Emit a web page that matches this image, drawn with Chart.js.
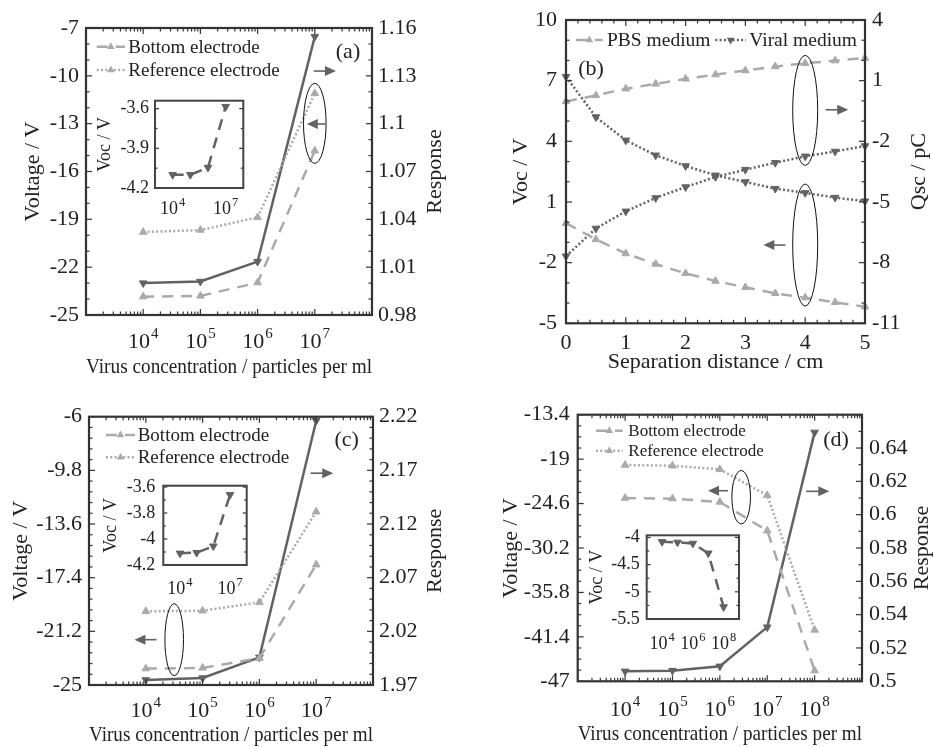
<!DOCTYPE html>
<html><head><meta charset="utf-8">
<script src="https://cdn.jsdelivr.net/npm/chart.js@4.4.1/dist/chart.umd.min.js"></script>
<style>
html,body{margin:0;padding:0;background:#fff;}
#wrap{position:relative;width:933px;height:747px;overflow:hidden;background:#fff;}
#wrap canvas{position:absolute;left:0;top:0;}
</style></head>
<body><div id="wrap"></div>
<script>
// ---------------- DATA ----------------
// Panel (a)
const concA = [1e4, 1e5, 1e6, 1e7];
const bottomA = [-23.85, -23.8, -22.97, -14.7];
const referenceA = [-19.8, -19.67, -18.88, -11.1];
const responseA = [1.0, 1.001, 1.0135, 1.1546];
const insetA = [-4.1, -4.1, -4.045, -3.585];
const voltTicksA = [-25, -22, -19, -16, -13, -10, -7];
const respTicksA = [0.98, 1.01, 1.04, 1.07, 1.1, 1.13, 1.16];
const concTicksA = [1e4, 1e5, 1e6, 1e7];
const insetTicksA = [-4.2, -3.9, -3.6];
const insetConcTicksA = [1e4, 1e7];

// Panel (b)
const distB = [0, 0.5, 1, 1.5, 2, 2.5, 3, 3.5, 4, 4.5, 5];
const vocPbsB = [-0.05, -0.85, -1.55, -2.07, -2.53, -2.91, -3.22, -3.52, -3.73, -3.96, -4.18];
const vocViralB = [7.2, 5.2, 4.05, 3.31, 2.78, 2.32, 1.99, 1.66, 1.45, 1.22, 1.04];
const qscPbsB = [-0.03, 0.27, 0.6, 0.84, 1.09, 1.3, 1.5, 1.7, 1.86, 1.99, 2.12];
const qscViralB = [-7.68, -6.31, -5.46, -4.8, -4.26, -3.76, -3.4, -3.06, -2.74, -2.5, -2.23];
const vocTicksB = [-5, -2, 1, 4, 7, 10];
const qscTicksB = [-11, -8, -5, -2, 1, 4];
const distTicksB = [0, 1, 2, 3, 4, 5];

// Panel (c)
const concC = [1e4, 1e5, 1e6, 1e7];
const bottomC = [-23.84, -23.79, -23.1, -16.48];
const referenceC = [-19.78, -19.74, -19.15, -12.73];
const responseC = [1.9747, 1.9765, 1.9958, 2.2163];
const insetC = [-4.11, -4.105, -4.055, -3.66];
const voltTicksC = [-25, -21.2, -17.4, -13.6, -9.8, -6];
const respTicksC = [1.97, 2.02, 2.07, 2.12, 2.17, 2.22];
const concTicksC = [1e4, 1e5, 1e6, 1e7];
const insetTicksC = [-4.2, -4, -3.8, -3.6];
const insetConcTicksC = [1e4, 1e7];

// Panel (d)
const concD = [1e4, 1e5, 1e6, 1e7, 1e8];
const bottomD = [-23.9, -23.98, -24.4, -28.02, -45.66];
const referenceD = [-19.74, -19.83, -20.29, -23.56, -40.53];
const responseD = [0.506, 0.5064, 0.509, 0.5325, 0.6494];
const insetD = [-4.08, -4.09, -4.11, -4.29, -5.28];
const voltTicksD = [-47, -41.4, -35.8, -30.2, -24.6, -19, -13.4];
const respTicksD = [0.5, 0.52, 0.54, 0.56, 0.58, 0.6, 0.62, 0.64];
const concTicksD = [1e4, 1e5, 1e6, 1e7, 1e8];
const insetTicksD = [-5.5, -5, -4.5, -4];
const insetConcTicksD = [1e4, 1e6, 1e8];

// ---------------- STYLE / HELPERS ----------------
const W = 933, H = 747;
const FONT = "'Liberation Serif', 'Times New Roman', serif";
const DARK = '#626262', LIGHT = '#aaaaaa', AXIS = '#333333', TXT = '#222222';
const DASH = [11, 8], DOT = [2, 2.3];
const MR = 4.4;

function numLabel(v){ return String(+(+v).toFixed(3)); }
function pts(xs, ys){ return xs.map((x, i) => ({x: x, y: ys[i]})); }
function fixedTicks(vals){ return s => { s.ticks = vals.map(v => ({value: v})); }; }
function linMinor(major, n){ const o = []; for (let i = 0; i < major.length - 1; i++){ for (let k = 1; k < n; k++) o.push(major[i] + (major[i+1] - major[i]) * k / n); } return o; }
function logMajor(min, max){ const o = []; for (let e = Math.round(Math.log10(min)); e <= Math.round(Math.log10(max)); e++) o.push(Math.pow(10, e)); return o; }
function logMinor(min, max){ const o = []; for (let e = Math.floor(Math.log10(min)); e < Math.log10(max); e++) for (let k = 2; k < 10; k++){ const v = k * Math.pow(10, e); if (v > min && v < max) o.push(v); } return o; }

function ds(label, xs, ys, color, dash, down, axis){
  return { label, data: pts(xs, ys), borderColor: color, backgroundColor: color,
    pointBackgroundColor: color, pointBorderColor: color, pointBorderWidth: 1,
    borderWidth: 2.5, borderDash: dash, pointStyle: 'triangle', pointRotation: down ? 180 : 0,
    pointRadius: MR, yAxisID: axis || 'y', clip: false, tension: 0, fill: false };
}

const wrap = document.getElementById('wrap');
function makeCanvas(){ const c = document.createElement('canvas'); c.width = W; c.height = H; wrap.appendChild(c); return c; }

function tri(ctx, x, y, r, down){
  ctx.beginPath();
  const s = down ? -1 : 1;
  ctx.moveTo(x, y - s * r);
  ctx.lineTo(x + r * 0.866, y + s * r * 0.5);
  ctx.lineTo(x - r * 0.866, y + s * r * 0.5);
  ctx.closePath(); ctx.fill();
}
function arrow(ctx, x1, x2, y){
  const dir = Math.sign(x2 - x1), hl = 11, hw = 5;
  ctx.beginPath(); ctx.moveTo(x1, y); ctx.lineTo(x2 - dir * hl + dir, y); ctx.stroke();
  ctx.beginPath(); ctx.moveTo(x2, y); ctx.lineTo(x2 - dir * hl, y - hw); ctx.lineTo(x2 - dir * hl, y + hw); ctx.closePath(); ctx.fill();
}

function decor(p){
  return {
    id: 'decor',
    afterDatasetsDraw(chart){
      const ctx = chart.ctx, a = chart.chartArea, sx = chart.scales.x, sy = chart.scales.y, sy2 = chart.scales.y2 || sy;
      const f = p.frame;
      ctx.save();
      ctx.strokeStyle = AXIS; ctx.lineWidth = 1.2;
      const ln = (x1, y1, x2, y2) => { ctx.beginPath(); ctx.moveTo(x1, y1); ctx.lineTo(x2, y2); ctx.stroke(); };
      if (f.x) [[f.x[0], f.maj], [f.x[1], f.min]].forEach(([vals, len]) => vals.forEach(v => {
        const px = sx.getPixelForValue(v); ln(px, a.bottom, px, a.bottom - len); ln(px, a.top, px, a.top + len); }));
      if (f.y) [[f.y[0], f.maj], [f.y[1], f.min]].forEach(([vals, len]) => vals.forEach(v => {
        const py = sy.getPixelForValue(v); ln(a.left, py, a.left + len, py); }));
      if (f.y2) [[f.y2[0], f.maj], [f.y2[1], f.min]].forEach(([vals, len]) => vals.forEach(v => {
        const py = sy2.getPixelForValue(v); ln(a.right, py, a.right - len, py); }));
      ctx.lineWidth = f.lw; ctx.strokeStyle = f.color || AXIS;
      ctx.strokeRect(a.left, a.top, a.right - a.left, a.bottom - a.top);
      // power-of-ten tick labels
      if (p.powX){
        const q = p.powX;
        ctx.fillStyle = TXT; ctx.textAlign = 'left'; ctx.textBaseline = 'alphabetic';
        q.ticks.forEach(v => {
          const px = sx.getPixelForValue(v), e = String(Math.round(Math.log10(v)));
          ctx.font = q.fs + 'px ' + FONT; const w1 = ctx.measureText('10').width;
          ctx.font = q.ss + 'px ' + FONT; const w2 = ctx.measureText(e).width;
          const x0 = px - (w1 + w2 + 1) / 2;
          ctx.font = q.fs + 'px ' + FONT; ctx.fillText('10', x0, a.bottom + q.base);
          ctx.font = q.ss + 'px ' + FONT; ctx.fillText(e, x0 + w1 + 1, a.bottom + q.base - q.raise);
        });
      }
      // right-axis title, reading bottom to top
      if (p.rightTitle){
        ctx.save();
        ctx.translate(a.right + p.rightTitle.dx, (a.top + a.bottom) / 2);
        ctx.rotate(-Math.PI / 2);
        ctx.fillStyle = TXT; ctx.font = '22px ' + FONT; ctx.textAlign = 'center'; ctx.textBaseline = 'middle';
        ctx.fillText(p.rightTitle.text, 0, 0);
        ctx.restore();
      }
      // ellipses
      ctx.strokeStyle = '#111'; ctx.lineWidth = 1;
      (p.ellipses || []).forEach(e => {
        const cx = sx.getPixelForValue(e.x), cy = chart.scales[e.axis || 'y'].getPixelForValue(e.y);
        ctx.beginPath(); ctx.ellipse(cx, cy, e.rx, e.ry, 0, 0, Math.PI * 2); ctx.stroke();
      });
      ctx.strokeStyle = DARK; ctx.fillStyle = DARK; ctx.lineWidth = 1.6;
      (p.arrows || []).forEach(r => {
        const y = chart.scales[r.axis || 'y'].getPixelForValue(r.y);
        arrow(ctx, sx.getPixelForValue(r.x1), sx.getPixelForValue(r.x2), y);
      });
      // legend
      (p.legend || []).forEach(L => {
        const y = a.top + L.y;
        ctx.save();
        ctx.strokeStyle = L.color; ctx.fillStyle = L.color; ctx.lineWidth = 2.5; ctx.setLineDash(L.dash);
        ctx.beginPath(); ctx.moveTo(a.left + L.x0, y); ctx.lineTo(a.left + L.x1, y); ctx.stroke();
        ctx.setLineDash([]);
        tri(ctx, a.left + (L.x0 + L.x1) / 2, y, MR, L.down);
        ctx.fillStyle = TXT; ctx.font = L.size + 'px ' + FONT; ctx.textBaseline = 'middle'; ctx.textAlign = 'left';
        ctx.fillText(L.text, a.left + L.tx, y + 1);
        ctx.restore();
      });
      if (p.label){
        ctx.fillStyle = TXT; ctx.font = '22px ' + FONT; ctx.textAlign = 'center'; ctx.textBaseline = 'middle';
        ctx.fillText(p.label.text, a.left + p.label.dx, a.top + p.label.dy);
      }
      ctx.restore();
    }
  };
}

function tickFont(size){ return {family: FONT, size: size, lineHeight: 1}; }
const NOGRID = {display: false, drawTicks: false, tickLength: 0};

function yAxis(pos, min, max, ticks, width, title, titlePad, tickPad, fs, tfs){
  return { type: 'linear', position: pos, min: min, max: max,
    afterBuildTicks: fixedTicks(ticks), afterFit: s => { s.width = width; },
    grid: NOGRID, border: {display: false},
    ticks: {autoSkip: false, padding: tickPad, color: TXT, font: tickFont(fs), callback: v => numLabel(v)},
    title: {display: !!title, text: title || '', color: TXT, font: tickFont(tfs), padding: titlePad} };
}
function xAxis(type, min, max, ticks, height, title, titlePad, tickPad, fs){
  return { type: type, position: 'bottom', min: min, max: max,
    afterBuildTicks: fixedTicks(ticks), afterFit: s => { s.height = height; },
    grid: NOGRID, border: {display: false},
    ticks: {display: type !== 'logarithmic', autoSkip: false, maxRotation: 0, minRotation: 0, padding: tickPad, color: TXT, font: tickFont(fs),
      callback: v => numLabel(v)},
    title: {display: !!title, text: title || '', color: TXT, font: tickFont(22), padding: titlePad} };
}

function makeChart(g, datasets, scales, deco){
  const padding = {left: g.L - g.wl, right: W - g.R - (g.wr || 0), top: g.T, bottom: H - g.B - g.hx};
  return new Chart(makeCanvas(), {
    type: 'line',
    data: {datasets: datasets},
    options: { responsive: false, animation: false, devicePixelRatio: 1, events: [],
      layout: {padding: padding},
      plugins: {legend: {display: false}, tooltip: {enabled: false}},
      scales: scales },
    plugins: [decor(deco)]
  });
}

const XT = 'Virus concentration / particles per ml';

// ---------------- PANEL (a) ----------------
makeChart({L: 86, T: 28, R: 372, B: 315, wl: 86, wr: 80, hx: 70},
  [ ds('Bottom electrode', concA, bottomA, LIGHT, DASH, false),
    ds('Reference electrode', concA, referenceA, LIGHT, DOT, false),
    ds('Response', concA, responseA, DARK, [], true, 'y2') ],
  { x: xAxis('logarithmic', 1e3, 1e8, concTicksA, 70, XT, 7, 16, 22),
    y: yAxis('left', -25, -7, voltTicksA, 86, 'Voltage / V', 22, 7, 22, 22),
    y2: yAxis('right', 0.98, 1.16, respTicksA, 80, '', 6, 6, 22, 22) },
  { frame: {lw: 2.2, maj: 6, min: 3.5, x: [logMajor(1e3, 1e8), logMinor(1e3, 1e8)],
      y: [voltTicksA, linMinor(voltTicksA, 3)], y2: [respTicksA, linMinor(respTicksA, 3)]},
    powX: {ticks: concTicksA, fs: 22, ss: 15, base: 33, raise: 10},
    rightTitle: {text: 'Response', dx: 63},
    ellipses: [{x: 1e7, y: -12.98, rx: 11.3, ry: 40}],
    arrows: [{x1: Math.pow(10, 6.98), x2: Math.pow(10, 7.37), y: -9.7}, {x1: Math.pow(10, 7.19), x2: Math.pow(10, 6.86), y: -13.02}],
    legend: [{text: 'Bottom electrode', color: LIGHT, dash: DASH, x0: 10.7, x1: 39, tx: 42.3, y: 18.7, size: 19},
             {text: 'Reference electrode', color: LIGHT, dash: DOT, x0: 10.7, x1: 39, tx: 42.3, y: 42, size: 19}],
    label: {text: '(a)', dx: 262, dy: 24} });

// ---------------- PANEL (b) ----------------
makeChart({L: 566, T: 19.3, R: 865, B: 323.3, wl: 60, wr: 68, hx: 50},
  [ ds('PBS medium', distB, vocPbsB, LIGHT, DASH, false),
    ds('Viral medium', distB, vocViralB, DARK, DOT, true),
    ds('PBS medium Qsc', distB, qscPbsB, LIGHT, DASH, false, 'y2'),
    ds('Viral medium Qsc', distB, qscViralB, DARK, DOT, true, 'y2') ],
  { x: xAxis('linear', 0, 5, distTicksB, 50, 'Separation distance / cm', 0.5, 9, 22),
    y: yAxis('left', -5, 10, vocTicksB, 60, 'Voc / V', 4, 9, 22, 22),
    y2: yAxis('right', -11, 4, qscTicksB, 68, '', 2.7, 7, 22, 22) },
  { frame: {lw: 2.2, maj: 6, min: 3.5, x: [distTicksB, linMinor(distTicksB, 5)],
      y: [vocTicksB, linMinor(vocTicksB, 3)], y2: [qscTicksB, linMinor(qscTicksB, 3)]},
    rightTitle: {text: 'Qsc / pC', dx: 54.3},
    ellipses: [{x: 4, y: 5.53, rx: 12.5, ry: 55}, {x: 4, y: -1.13, rx: 12.5, ry: 61}],
    arrows: [{x1: 4.34, x2: 4.72, y: 5.56}, {x1: 3.67, x2: 3.3, y: -1.13}],
    legend: [{text: 'PBS medium', color: LIGHT, dash: DASH, x0: 10, x1: 36.7, tx: 41, y: 20, size: 19.5},
             {text: 'Viral medium', color: DARK, dash: DOT, x0: 149.3, x1: 180, tx: 183.3, y: 20, size: 19.5, down: true}],
    label: {text: '(b)', dx: 25, dy: 49} });

// ---------------- PANEL (c) ----------------
makeChart({L: 89, T: 416.7, R: 373, B: 685, wl: 89, wr: 80, hx: 62},
  [ ds('Bottom electrode', concC, bottomC, LIGHT, DASH, false),
    ds('Reference electrode', concC, referenceC, LIGHT, DOT, false),
    ds('Response', concC, responseC, DARK, [], true, 'y2') ],
  { x: xAxis('logarithmic', 1e3, 1e8, concTicksC, 62, XT, 0.3, 14.7, 22),
    y: yAxis('left', -25, -6, voltTicksC, 89, 'Voltage / V', 10.7, 7, 22, 22),
    y2: yAxis('right', 1.97, 2.22, respTicksC, 80, '', 7, 6, 22, 22) },
  { frame: {lw: 2.2, maj: 6, min: 3.5, x: [logMajor(1e3, 1e8), logMinor(1e3, 1e8)],
      y: [voltTicksC, linMinor(voltTicksC, 5)], y2: [respTicksC, linMinor(respTicksC, 5)]},
    powX: {ticks: concTicksC, fs: 22, ss: 15, base: 32, raise: 10},
    rightTitle: {text: 'Response', dx: 62},
    ellipses: [{x: Math.pow(10, 4.5), y: -21.79, rx: 9.3, ry: 36}],
    arrows: [{x1: Math.pow(10, 4.19), x2: Math.pow(10, 3.8), y: -21.79}, {x1: Math.pow(10, 6.9), x2: Math.pow(10, 7.3), y: -10.0}],
    legend: [{text: 'Bottom electrode', color: LIGHT, dash: DASH, x0: 17, x1: 46, tx: 48.7, y: 18.3, size: 19},
             {text: 'Reference electrode', color: LIGHT, dash: DOT, x0: 17, x1: 46, tx: 48.7, y: 40.6, size: 19}],
    label: {text: '(c)', dx: 257.7, dy: 24} });

// ---------------- PANEL (d) ----------------
const respFrameD = respTicksD.concat([0.66]);
makeChart({L: 577.7, T: 414.7, R: 862, B: 681.3, wl: 77.7, wr: 71, hx: 65.7},
  [ ds('Bottom electrode', concD, bottomD, LIGHT, DASH, false),
    ds('Reference electrode', concD, referenceD, LIGHT, DOT, false),
    ds('Response', concD, responseD, DARK, [], true, 'y2') ],
  { x: xAxis('logarithmic', 1e3, 1e9, concTicksD, 65.7, XT, 2, 15, 22),
    y: yAxis('left', -47, -13.4, voltTicksD, 77.7, 'Voltage / V', 0, 8, 22, 22),
    y2: yAxis('right', 0.5, 0.66, respTicksD, 71, '', 0, 7, 22, 22) },
  { frame: {lw: 2.2, maj: 6, min: 3.5, x: [logMajor(1e3, 1e9), logMinor(1e3, 1e9)],
      y: [voltTicksD, linMinor(voltTicksD, 4)], y2: [respFrameD, linMinor(respFrameD, 2)]},
    powX: {ticks: concTicksD, fs: 22, ss: 15, base: 34.4, raise: 10},
    rightTitle: {text: 'Response', dx: 60.7},
    ellipses: [{x: Math.pow(10, 6.45), y: -23.8, rx: 9.3, ry: 26.7}],
    arrows: [{x1: Math.pow(10, 6.17), x2: Math.pow(10, 5.75), y: -22.98}, {x1: Math.pow(10, 7.82), x2: Math.pow(10, 8.31), y: -23.06}],
    legend: [{text: 'Bottom electrode', color: LIGHT, dash: DASH, x0: 18.3, x1: 45, tx: 50.6, y: 16, size: 17},
             {text: 'Reference electrode', color: LIGHT, dash: DOT, x0: 18.3, x1: 45, tx: 50.6, y: 36, size: 17}],
    label: {text: '(d)', dx: 258.3, dy: 26} });

// ---------------- INSETS ----------------
function inset(g, xs, ys, xMin, xMax, xTicks, yMin, yMax, yTicks, titlePad, tickPad, base){
  makeChart(g, [ ds('Voc', xs, ys, DARK, DASH, true) ],
    { x: xAxis('logarithmic', xMin, xMax, xTicks, g.hx, '', 0, 0, 18),
      y: yAxis('left', yMin, yMax, yTicks, g.wl, 'Voc / V', titlePad, tickPad, 18, 18) },
    { frame: {lw: 2, color: '#444', maj: 4, min: 2.5, y: [yTicks, linMinor(yTicks, 2)], y2: [yTicks, linMinor(yTicks, 2)]},
      powX: {ticks: xTicks, fs: 18, ss: 12.5, base: base, raise: 8} });
}
inset({L: 155, T: 100.7, R: 243.3, B: 188, wl: 60, hx: 32}, concA, insetA, 1e3, 1e8, insetConcTicksA, -4.2, -3.54, insetTicksA, 1, 6, 26);
inset({L: 163.3, T: 485.7, R: 246.7, B: 565, wl: 65, hx: 32}, concC, insetC, 1e3, 1e8, insetConcTicksC, -4.2, -3.59, insetTicksC, 4.4, 8, 29);
inset({L: 646.7, T: 535.3, R: 739, B: 619, wl: 60, hx: 34}, concD, insetD, 1e3, 1e9, insetConcTicksD, -5.5, -3.96, insetTicksD, 2, 7, 30.3);
</script>
</body></html>
